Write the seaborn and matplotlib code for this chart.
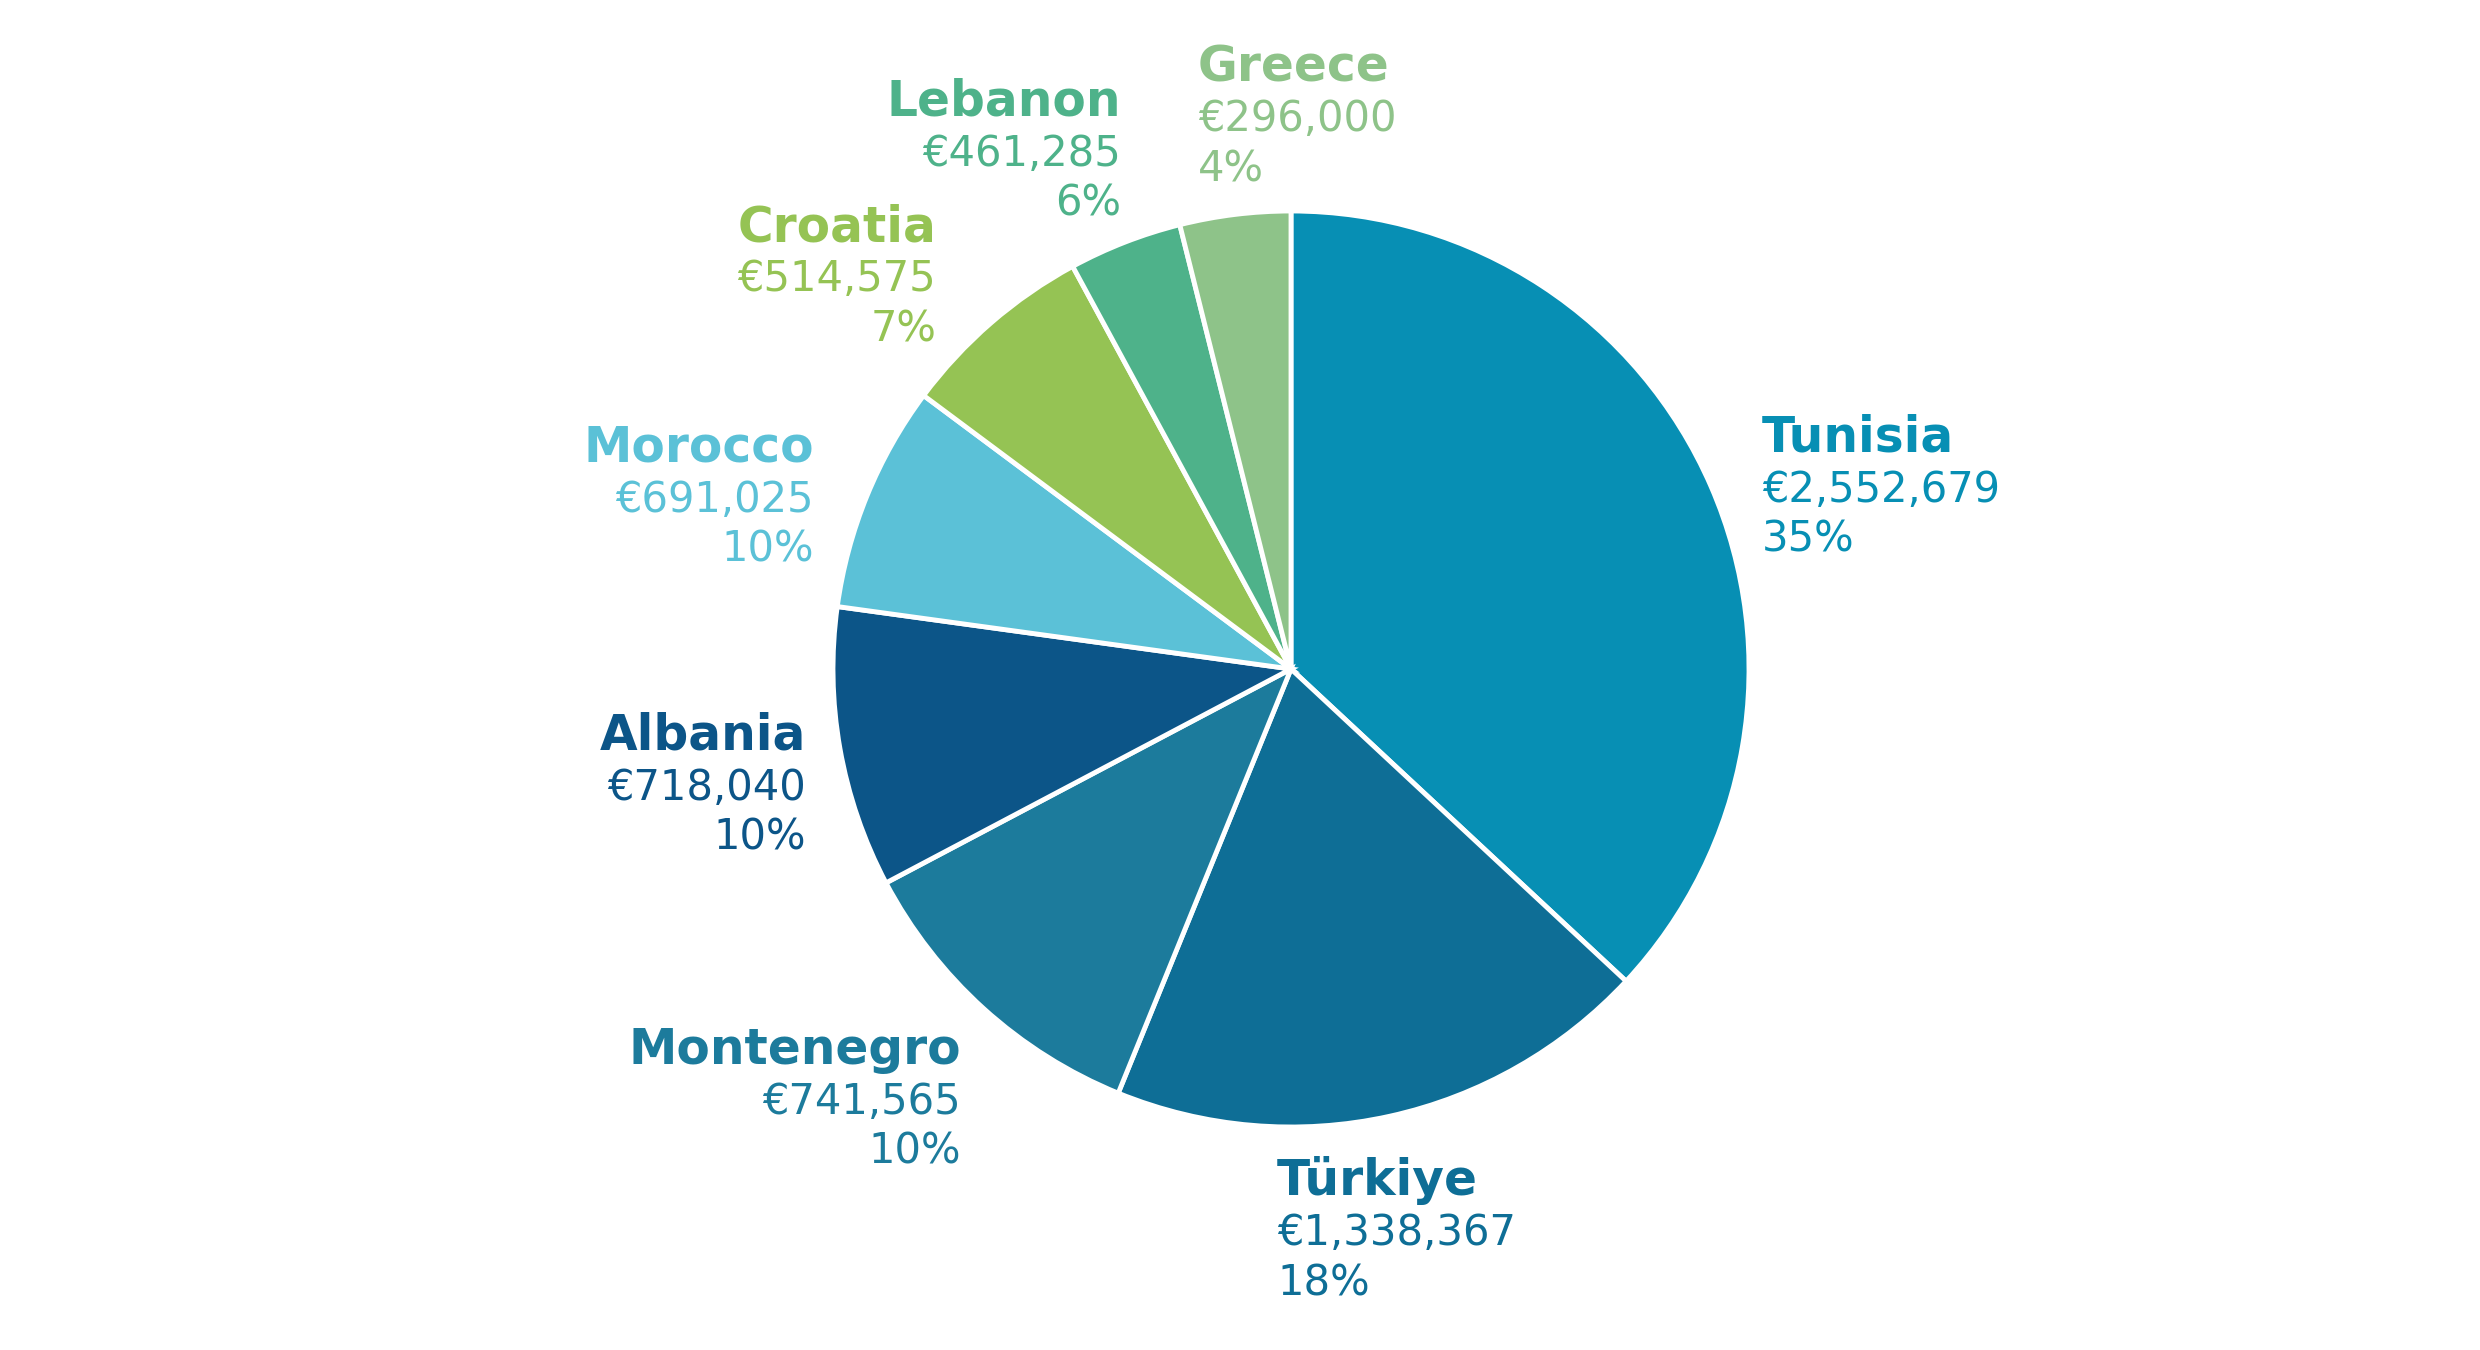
import matplotlib
matplotlib.use("Agg")
import matplotlib.pyplot as plt
import seaborn as sns

# ---- data ----
countries = ["Tunisia", "Türkiye", "Montenegro", "Albania", "Morocco", "Croatia", "Lebanon", "Greece"]
amounts = ["€2,552,679", "€1,338,367", "€741,565", "€718,040", "€691,025", "€514,575", "€461,285", "€296,000"]
percent_labels = ["35%", "18%", "10%", "10%", "10%", "7%", "6%", "4%"]
# wedge shares as drawn in the reference picture (percent of the circle)
wedge_share = [36.9, 19.2, 11.1, 9.9, 8.0, 6.9, 4.0, 3.9]
colors = ["#078FB4", "#0E6E96", "#1C7B9C", "#0C5588", "#5BC1D7", "#95C354", "#4EB28A", "#8EC389"]

sns.set_theme(style="white")
plt.rcParams["font.family"] = ["DejaVu Sans"]

W, H = 2480, 1350
fig = plt.figure(figsize=(W / 100, H / 100), dpi=100)
ax = fig.add_axes([0, 0, 1, 1])

cx, cy, r = 1291, H - 669, 458
ax.pie(wedge_share, colors=colors, startangle=90, counterclock=False,
       center=(cx, cy), radius=r,
       wedgeprops=dict(edgecolor="white", linewidth=3.5))
ax.set_xlim(0, W)
ax.set_ylim(0, H)
ax.set_aspect("auto")
ax.axis("off")

# label layout: (x, horizontal alignment, baseline of first line) in pixel space
label_pos = {
    "Tunisia": (1762, "left", 452),
    "Türkiye": (1277, "left", 1195),
    "Montenegro": (961, "right", 1064),
    "Albania": (806, "right", 750),
    "Morocco": (814, "right", 462),
    "Croatia": (936, "right", 241),
    "Lebanon": (1121, "right", 116),
    "Greece": (1198, "left", 81),
}
line_gap = 50

for name, amt, pct, col in zip(countries, amounts, percent_labels, colors):
    x, ha, y0 = label_pos[name]
    ax.text(x, H - y0, name, ha=ha, va="baseline", color=col,
            fontsize=35, fontweight="bold")
    ax.text(x, H - (y0 + line_gap), amt, ha=ha, va="baseline", color=col,
            fontsize=30)
    ax.text(x, H - (y0 + 2 * line_gap), pct, ha=ha, va="baseline", color=col,
            fontsize=30)

fig.savefig("out.png", dpi=100, facecolor="white")
